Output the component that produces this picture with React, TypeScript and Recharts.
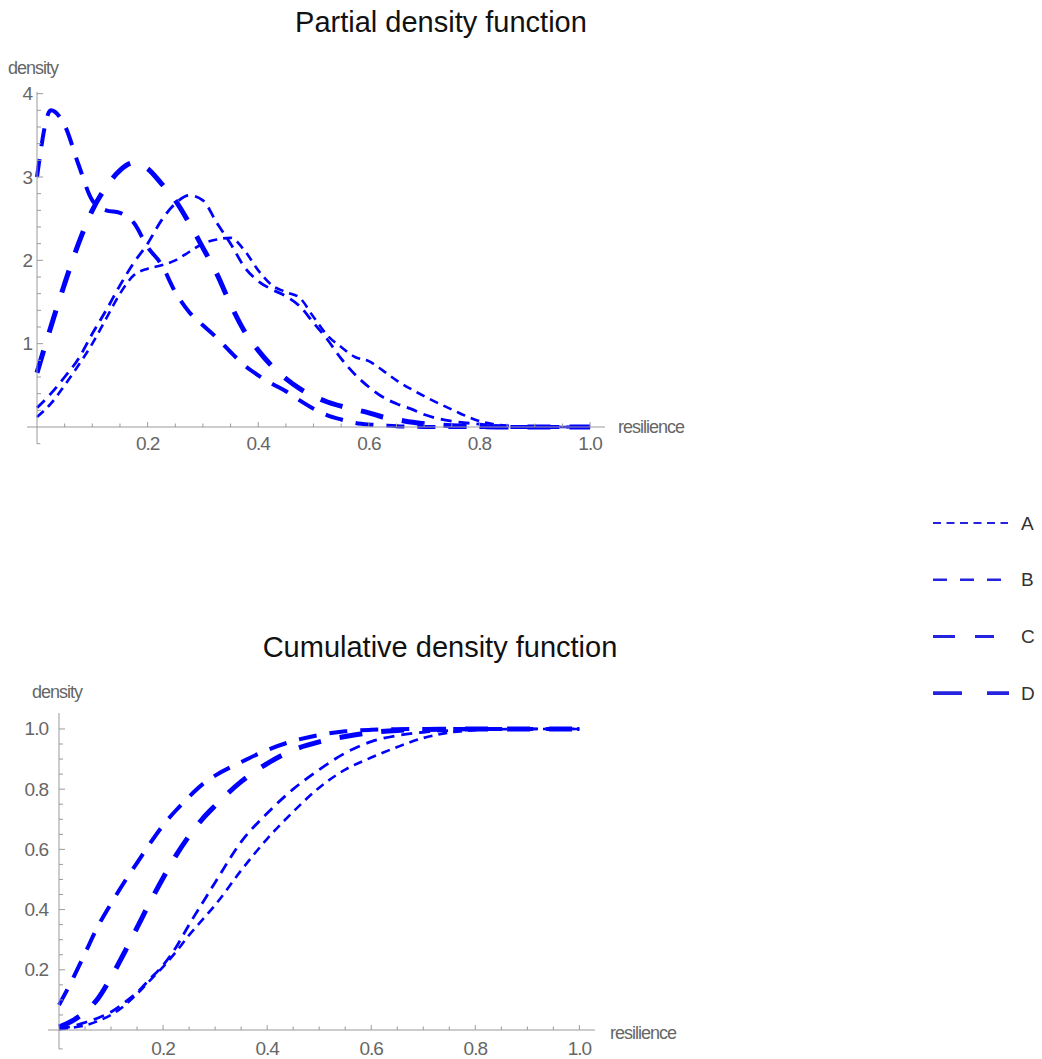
import React from 'react';
import { LineChart, Line, XAxis, YAxis, ReferenceLine } from 'recharts';

// ---------- data ----------
const seriesNames = ['A', 'B', 'C', 'D'];

const pdfX = [0, 0.025, 0.05, 0.075, 0.1, 0.125, 0.15, 0.175, 0.2, 0.225, 0.25, 0.275, 0.3, 0.325, 0.35, 0.375, 0.4, 0.425, 0.45, 0.475, 0.5, 0.525, 0.55, 0.575, 0.6, 0.625, 0.65, 0.675, 0.7, 0.75, 0.8, 0.85, 0.9, 0.95, 1.0];
const pdfA = [0.12, 0.28, 0.5, 0.74, 1.0, 1.3, 1.6, 1.82, 1.9, 1.94, 2.0, 2.1, 2.2, 2.25, 2.27, 2.12, 1.88, 1.7, 1.62, 1.55, 1.32, 1.1, 0.96, 0.84, 0.79, 0.68, 0.56, 0.46, 0.37, 0.21, 0.07, 0.015, 0, 0, 0];
const pdfB = [0.23, 0.4, 0.6, 0.82, 1.12, 1.4, 1.7, 1.97, 2.2, 2.48, 2.68, 2.78, 2.72, 2.45, 2.2, 1.92, 1.75, 1.65, 1.57, 1.45, 1.25, 1.05, 0.82, 0.63, 0.48, 0.36, 0.28, 0.22, 0.15, 0.07, 0.035, 0.01, 0, 0, 0];
const pdfC = [3.0, 3.8, 3.62, 3.15, 2.72, 2.6, 2.57, 2.45, 2.16, 1.95, 1.62, 1.38, 1.22, 1.07, 0.9, 0.74, 0.62, 0.52, 0.43, 0.32, 0.22, 0.14, 0.09, 0.05, 0.03, 0.02, 0.01, 0.005, 0, 0, 0, 0, 0, 0, 0];
const pdfD = [0.65, 1.2, 1.72, 2.2, 2.6, 2.88, 3.08, 3.17, 3.1, 2.92, 2.72, 2.45, 2.15, 1.84, 1.47, 1.15, 0.92, 0.73, 0.58, 0.46, 0.37, 0.3, 0.25, 0.21, 0.17, 0.12, 0.09, 0.06, 0.04, 0.015, 0.005, 0, 0, 0, 0];

const cdfX = [0, 0.025, 0.05, 0.075, 0.1, 0.125, 0.15, 0.175, 0.2, 0.225, 0.25, 0.275, 0.3, 0.35, 0.4, 0.45, 0.5, 0.55, 0.6, 0.65, 0.7, 0.75, 0.8, 0.85, 0.9, 0.95, 1.0];
const cdfA = [0.003, 0.008, 0.015, 0.03, 0.05, 0.08, 0.12, 0.165, 0.21, 0.26, 0.315, 0.365, 0.415, 0.53, 0.635, 0.725, 0.805, 0.865, 0.905, 0.94, 0.97, 0.988, 0.996, 0.999, 1, 1, 1];
const cdfB = [0.005, 0.012, 0.025, 0.04, 0.06, 0.09, 0.125, 0.17, 0.215, 0.275, 0.35, 0.42, 0.49, 0.625, 0.72, 0.8, 0.865, 0.92, 0.958, 0.978, 0.989, 0.995, 0.998, 1, 1, 1, 1];
const cdfC = [0.083, 0.165, 0.255, 0.345, 0.42, 0.49, 0.555, 0.62, 0.68, 0.73, 0.775, 0.815, 0.845, 0.89, 0.93, 0.96, 0.98, 0.992, 0.997, 0.999, 1, 1, 1, 1, 1, 1, 1];
const cdfD = [0.01, 0.03, 0.06, 0.105, 0.175, 0.255, 0.34, 0.425, 0.505, 0.58, 0.645, 0.7, 0.745, 0.825, 0.885, 0.93, 0.957, 0.975, 0.988, 0.995, 0.998, 0.999, 1, 1, 1, 1, 1];

const xTicks = [0.05, 0.1, 0.15, 0.2, 0.25, 0.3, 0.35, 0.4, 0.45, 0.5, 0.55, 0.6, 0.65, 0.7, 0.75, 0.8, 0.85, 0.9, 0.95, 1.0];
const pdfYTicks = [0.2, 0.4, 0.6, 0.8, 1, 1.2, 1.4, 1.6, 1.8, 2, 2.2, 2.4, 2.6, 2.8, 3, 3.2, 3.4, 3.6, 3.8, 4];
const cdfYTicks = [0.05, 0.1, 0.15, 0.2, 0.25, 0.3, 0.35, 0.4, 0.45, 0.5, 0.55, 0.6, 0.65, 0.7, 0.75, 0.8, 0.85, 0.9, 0.95, 1.0];

const pdfRows = pdfX.map((x, i) => ({ x, A: pdfA[i], B: pdfB[i], C: pdfC[i], D: pdfD[i] }));
const cdfRows = cdfX.map((x, i) => ({ x, A: cdfA[i], B: cdfB[i], C: cdfC[i], D: cdfD[i] }));

// ---------- styles ----------
const BLUE = '#0000ff';
const AXIS = '#9a9a9a';
const TEXT = '#666666';
const FONT = '"Liberation Sans", Arial, sans-serif';

const lineStyle: Record<string, { w: number; dash: string }> = {
  A: { w: 2.6, dash: '9 6' },
  B: { w: 2.8, dash: '11 7' },
  C: { w: 4, dash: '18 13' },
  D: { w: 5, dash: '23 19' },
};
const legendStyle: Record<string, { w: number; dash: string; len: number }> = {
  A: { w: 2, dash: '8 5.5', len: 75 },
  B: { w: 2.5, dash: '14 13', len: 68 },
  C: { w: 3, dash: '22 20', len: 61 },
  D: { w: 3.8, dash: '29 25', len: 76 },
};

const isMajor = (v: number, step: number) => Math.abs(v / step - Math.round(v / step)) < 1e-6;

const makeXTick = (labelDy: number) => (props: any) => {
  const { x, y, payload } = props;
  const v = payload.value as number;
  const major = isMajor(v, 0.2);
  return (
    <g>
      <line x1={x} x2={x} y1={y} y2={y - (major ? 5 : 3.5)} stroke={AXIS} strokeWidth={1} />
      {major && (
        <text x={x} y={y + labelDy} textAnchor="middle" dominantBaseline="central"
          fontFamily={FONT} fontSize={19} fill={TEXT} letterSpacing={-1}>
          {v.toFixed(1)}
        </text>
      )}
    </g>
  );
};

const makeYTick = (step: number, gap: number, fmt: (v: number) => string) => (props: any) => {
  const { x, y, payload } = props;
  const v = payload.value as number;
  const major = isMajor(v, step);
  return (
    <g>
      <line x1={x} x2={x + (major ? 6 : 4)} y1={y} y2={y} stroke={AXIS} strokeWidth={1} />
      {major && (
        <text x={x - gap} y={y} textAnchor="end" dominantBaseline="central"
          fontFamily={FONT} fontSize={19} fill={TEXT} letterSpacing={-1}>
          {fmt(v)}
        </text>
      )}
    </g>
  );
};

const abs = (left: number, top: number, extra: React.CSSProperties = {}): React.CSSProperties => ({
  position: 'absolute', left, top, fontFamily: FONT, whiteSpace: 'nowrap', ...extra,
});

const Title = ({ text, cx, cy }: { text: string; cx: number; cy: number }) => (
  <div style={abs(cx, cy, { transform: 'translate(-50%, -50%)', fontSize: 29, color: '#111', lineHeight: '34px' })}>{text}</div>
);
const AxisLabel = ({ text, left, cy }: { text: string; left: number; cy: number }) => (
  <div style={abs(left, cy, { transform: 'translateY(-50%)', fontSize: 18, color: TEXT, letterSpacing: '-1px', lineHeight: '22px' })}>{text}</div>
);

const renderLines = () =>
  seriesNames.map((n) => (
    <Line key={n} type="monotone" dataKey={n} stroke={BLUE} strokeWidth={lineStyle[n].w}
      strokeDasharray={lineStyle[n].dash} dot={false} activeDot={false} isAnimationActive={false} />
  ));

const Legend = () => (
  <svg width={130} height={220} style={{ position: 'absolute', left: 920, top: 500 }}>
    {seriesNames.map((n, i) => {
      const cy = 23 + i * 56.7;
      const s = legendStyle[n];
      return (
        <g key={n}>
          <line x1={13} x2={13 + s.len} y1={cy} y2={cy} stroke="#2424e0" strokeWidth={s.w} strokeDasharray={s.dash} />
          <text x={101} y={cy} dominantBaseline="central" fontFamily={FONT} fontSize={19} fill="#333">{n}</text>
        </g>
      );
    })}
  </svg>
);

export default function App() {
  return (
    <div style={{ position: 'absolute', left: 0, top: 0, width: 1042, height: 1059, background: '#fff', overflow: 'hidden' }}>
      <Title text="Partial density function" cx={441} cy={22} />
      <AxisLabel text="density" left={8} cy={68} />
      <AxisLabel text="resilience" left={618} cy={427} />

      <div style={{ position: 'absolute', left: 0, top: 0 }}>
        <LineChart width={700} height={470} data={pdfRows} margin={{ top: 92, right: 95, bottom: 13, left: 0 }}>
          <XAxis dataKey="x" type="number" domain={[0, 1.027]} ticks={xTicks} interval={0}
            axisLine={{ stroke: AXIS }} tickLine={false} tickSize={0} tickMargin={0} height={30}
            tick={makeXTick(16)} />
          <YAxis type="number" domain={[0, 4.02]} ticks={pdfYTicks} interval={0} width={37}
            axisLine={{ stroke: AXIS }} tickLine={false} tickSize={0} tickMargin={0}
            tick={makeYTick(1, 5, (v) => String(Math.round(v)))} />
          <ReferenceLine ifOverflow="visible" stroke={AXIS} segment={[{ x: 0, y: -0.2 }, { x: 0, y: 0 }]} />
          <ReferenceLine ifOverflow="visible" stroke={AXIS} segment={[{ x: -0.018, y: 0 }, { x: 0, y: 0 }]} />
          <ReferenceLine ifOverflow="visible" stroke={AXIS} segment={[{ x: 0, y: -0.2 }, { x: 0.006, y: -0.2 }]} />
          {renderLines()}
        </LineChart>
      </div>

      <Title text="Cumulative density function" cx={440} cy={647} />
      <AxisLabel text="density" left={32} cy={692} />
      <AxisLabel text="resilience" left={610} cy={1033} />

      <div style={{ position: 'absolute', left: 0, top: 600 }}>
        <LineChart width={700} height={459} data={cdfRows} margin={{ top: 113, right: 105, bottom: 4, left: 0 }}>
          <XAxis dataKey="x" type="number" domain={[0, 1.03]} ticks={xTicks} interval={0}
            axisLine={{ stroke: AXIS }} tickLine={false} tickSize={0} tickMargin={0} height={25}
            tick={makeXTick(18)} />
          <YAxis type="number" domain={[0, 1.053]} ticks={cdfYTicks} interval={0} width={59}
            axisLine={{ stroke: AXIS }} tickLine={false} tickSize={0} tickMargin={0}
            tick={makeYTick(0.2, 11, (v) => v.toFixed(1))} />
          <ReferenceLine ifOverflow="visible" stroke={AXIS} segment={[{ x: 0, y: -0.063 }, { x: 0, y: 0 }]} />
          <ReferenceLine ifOverflow="visible" stroke={AXIS} segment={[{ x: -0.021, y: 0 }, { x: 0, y: 0 }]} />
          <ReferenceLine ifOverflow="visible" stroke={AXIS} segment={[{ x: 0, y: -0.063 }, { x: 0.007, y: -0.063 }]} />
          {renderLines()}
        </LineChart>
      </div>

      <Legend />
    </div>
  );
}
